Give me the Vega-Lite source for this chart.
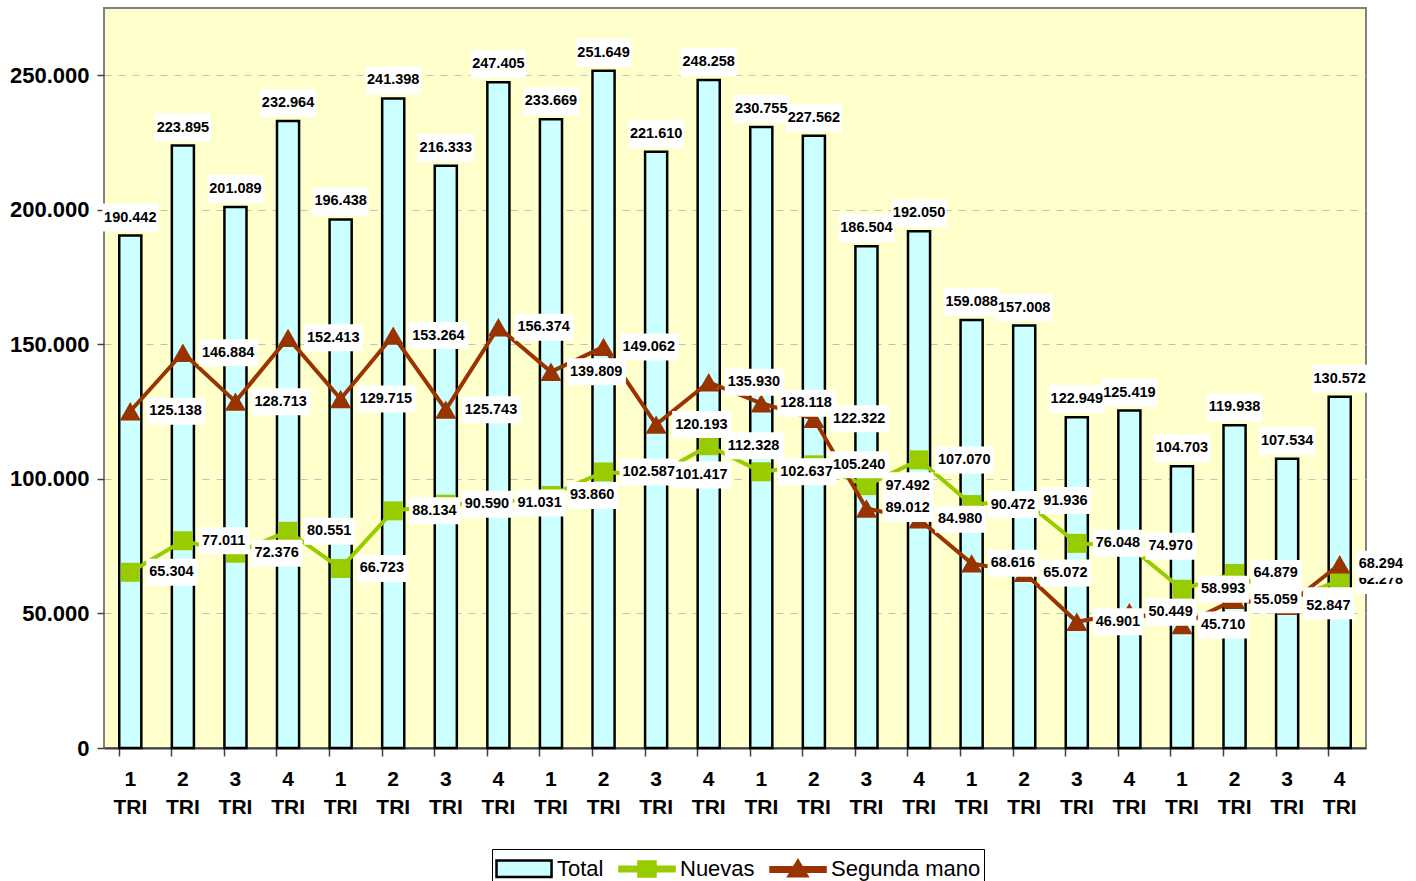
{
  "$schema": "https://vega.github.io/schema/vega-lite/v6.json",
  "width": 1262,
  "height": 740,
  "autosize": "none",
  "padding": {"left": 104, "top": 8, "right": 50, "bottom": 133},
  "background": "white",
  "config": {
    "locale": {"number": {"decimal": ",", "thousands": ".", "grouping": [3], "currency": ["", " €"]}},
    "view": {"fill": "#FFFFCC", "stroke": "#808080", "strokeWidth": 2},
    "font": "Liberation Sans",
    "legend": {
      "orient": "none",
      "legendX": 388,
      "legendY": 841,
      "direction": "horizontal",
      "title": null,
      "strokeColor": "#000000",
      "fillColor": "white",
      "padding": 3,
      "labelFont": "Liberation Sans",
      "labelFontSize": 22,
      "labelColor": "black",
      "symbolSize": 900,
      "symbolStrokeWidth": 2.5,
      "symbolOpacity": 1,
      "columnPadding": 10,
      "labelOffset": 29
    }
  },
  "data": {
    "values": [
      {"n": 1, "Total": 190442, "Nuevas": 65304, "Segunda mano": 125138},
      {"n": 2, "Total": 223895, "Nuevas": 77011, "Segunda mano": 146884},
      {"n": 3, "Total": 201089, "Nuevas": 72376, "Segunda mano": 128713},
      {"n": 4, "Total": 232964, "Nuevas": 80551, "Segunda mano": 152413},
      {"n": 5, "Total": 196438, "Nuevas": 66723, "Segunda mano": 129715},
      {"n": 6, "Total": 241398, "Nuevas": 88134, "Segunda mano": 153264},
      {"n": 7, "Total": 216333, "Nuevas": 90590, "Segunda mano": 125743},
      {"n": 8, "Total": 247405, "Nuevas": 91031, "Segunda mano": 156374},
      {"n": 9, "Total": 233669, "Nuevas": 93860, "Segunda mano": 139809},
      {"n": 10, "Total": 251649, "Nuevas": 102587, "Segunda mano": 149062},
      {"n": 11, "Total": 221610, "Nuevas": 101417, "Segunda mano": 120193},
      {"n": 12, "Total": 248258, "Nuevas": 112328, "Segunda mano": 135930},
      {"n": 13, "Total": 230755, "Nuevas": 102637, "Segunda mano": 128118},
      {"n": 14, "Total": 227562, "Nuevas": 105240, "Segunda mano": 122322},
      {"n": 15, "Total": 186504, "Nuevas": 97492, "Segunda mano": 89012},
      {"n": 16, "Total": 192050, "Nuevas": 107070, "Segunda mano": 84980},
      {"n": 17, "Total": 159088, "Nuevas": 90472, "Segunda mano": 68616},
      {"n": 18, "Total": 157008, "Nuevas": 91936, "Segunda mano": 65072},
      {"n": 19, "Total": 122949, "Nuevas": 76048, "Segunda mano": 46901},
      {"n": 20, "Total": 125419, "Nuevas": 74970, "Segunda mano": 50449},
      {"n": 21, "Total": 104703, "Nuevas": 58993, "Segunda mano": 45710},
      {"n": 22, "Total": 119938, "Nuevas": 64879, "Segunda mano": 55059},
      {"n": 23, "Total": 107534, "Nuevas": 54687, "Segunda mano": 52847},
      {"n": 24, "Total": 130572, "Nuevas": 62278, "Segunda mano": 68294}
    ]
  },
  "encoding": {
    "x": {
      "field": "n",
      "type": "ordinal",
      "scale": {"paddingInner": 0.58, "paddingOuter": 0.29},
      "axis": {
        "title": null,
        "labelExpr": "[toString((datum.value - 1) % 4 + 1), 'TRI']",
        "labelFont": "Liberation Sans",
        "labelFontSize": 21,
        "labelFontWeight": "bold",
        "labelColor": "black",
        "labelAngle": 0,
        "labelLineHeight": 28,
        "labelBaseline": "top",
        "labelPadding": 12,
        "tickSize": 8,
        "tickColor": "#404040",
        "tickWidth": 1.5,
        "domainColor": "#404040",
        "domainWidth": 2,
        "bandPosition": 0
      }
    }
  },
  "layer": [
    {
      "mark": {"type": "bar", "fill": "#CCFFFF", "stroke": "black", "strokeWidth": 2.5},
      "encoding": {
        "y": {
          "field": "Total",
          "type": "quantitative",
          "scale": {"domain": [0, 275000], "nice": false},
          "axis": {
            "title": null,
            "values": [0, 50000, 100000, 150000, 200000, 250000],
            "format": ",d",
            "labelFont": "Liberation Sans",
            "labelFontSize": 22,
            "labelFontWeight": "bold",
            "labelColor": "black",
            "labelPadding": 8,
            "tickSize": 7,
            "tickColor": "#404040",
            "tickWidth": 1.5,
            "domain": false,
            "grid": true,
            "gridDash": [7, 7],
            "gridColor": "#C0C0C0",
            "gridWidth": 1
          }
        }
      }
    },
    {
      "mark": {"type": "line", "stroke": "#99CC00", "strokeWidth": 4},
      "encoding": {"y": {"field": "Nuevas", "type": "quantitative"}}
    },
    {
      "mark": {"type": "point", "shape": "square", "filled": true, "fill": "#99CC00", "size": 361, "opacity": 1},
      "encoding": {"y": {"field": "Nuevas", "type": "quantitative"}}
    },
    {
      "mark": {"type": "line", "stroke": "#993300", "strokeWidth": 4},
      "encoding": {"y": {"field": "Segunda mano", "type": "quantitative"}}
    },
    {
      "mark": {"type": "point", "shape": "triangle-up", "filled": true, "fill": "#993300", "size": 450, "opacity": 1},
      "encoding": {"y": {"field": "Segunda mano", "type": "quantitative"}}
    },
    {
      "transform": [
        {"fold": ["Total", "Nuevas", "Segunda mano"], "as": ["serie", "valor"]},
        {"filter": "false"}
      ],
      "mark": {"type": "point", "filled": true, "opacity": 1},
      "encoding": {
        "y": {"field": "valor", "type": "quantitative"},
        "color": {
          "field": "serie",
          "type": "nominal",
          "scale": {"domain": ["Total", "Nuevas", "Segunda mano"], "range": ["#CCFFFF", "#99CC00", "#993300"]}
        },
        "stroke": {
          "field": "serie",
          "type": "nominal",
          "scale": {"domain": ["Total", "Nuevas", "Segunda mano"], "range": ["black", "#99CC00", "#993300"]}
        },
        "shape": {
          "field": "serie",
          "type": "nominal",
          "scale": {
            "domain": ["Total", "Nuevas", "Segunda mano"],
            "range": [
              "M-1,-0.55H2.67V0.55H-1Z",
              "M-1,-0.15H2.67V0.15H-1ZM0.26,-0.5H1.4V0.5H0.26Z",
              "M-1,-0.15H2.67V0.15H-1ZM0.2,0.45L0.83,-0.6L1.46,0.45Z"
            ]
          }
        }
      }
    },
    {
      "mark": {"type": "point", "shape": "M-0.56,-0.64H0.56V-0.08H-0.56Z", "filled": true, "fill": "white", "size": 10000, "opacity": 1, "strokeWidth": 0},
      "encoding": {"y": {"field": "Total", "type": "quantitative"}}
    },
    {
      "mark": {"type": "text", "dy": -18, "align": "center", "baseline": "middle", "font": "Liberation Sans", "fontSize": 14.5, "fontWeight": "bold", "color": "black"},
      "encoding": {
        "y": {"field": "Total", "type": "quantitative"},
        "text": {"field": "Total", "type": "quantitative", "format": ",d"}
      }
    },
    {
      "mark": {"type": "point", "filled": true, "fill": "white", "size": 10000, "opacity": 1, "strokeWidth": 0},
      "encoding": {
        "y": {"field": "Nuevas", "type": "quantitative"},
        "shape": {"condition": {"test": "datum['Nuevas'] >= 100000", "value": "M0.32,-0.27H1.5V0.27H0.32Z"}, "value": "M0.32,-0.27H1.34V0.27H0.32Z"}
      }
    },
    {
      "mark": {"type": "text", "dx": 19, "align": "left", "baseline": "middle", "font": "Liberation Sans", "fontSize": 14.5, "fontWeight": "bold", "color": "black"},
      "encoding": {
        "y": {"field": "Nuevas", "type": "quantitative"},
        "text": {"field": "Nuevas", "type": "quantitative", "format": ",d"}
      }
    },
    {
      "mark": {"type": "point", "filled": true, "fill": "white", "size": 10000, "opacity": 1, "strokeWidth": 0},
      "encoding": {
        "y": {"field": "Segunda mano", "type": "quantitative"},
        "shape": {"condition": {"test": "datum['Segunda mano'] >= 100000", "value": "M0.32,-0.27H1.5V0.27H0.32Z"}, "value": "M0.32,-0.27H1.34V0.27H0.32Z"}
      }
    },
    {
      "mark": {"type": "text", "dx": 19, "align": "left", "baseline": "middle", "font": "Liberation Sans", "fontSize": 14.5, "fontWeight": "bold", "color": "black"},
      "encoding": {
        "y": {"field": "Segunda mano", "type": "quantitative"},
        "text": {"field": "Segunda mano", "type": "quantitative", "format": ",d"}
      }
    }
  ]
}
